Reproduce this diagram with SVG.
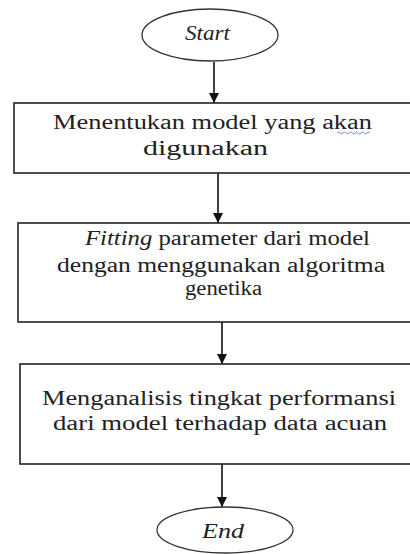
<svg xmlns="http://www.w3.org/2000/svg" width="410" height="554" viewBox="0 0 410 554">
<defs>
<marker id="ah" markerWidth="10" markerHeight="10" refX="10" refY="5" orient="auto" markerUnits="userSpaceOnUse" viewBox="0 0 10 10">
<path d="M0,0 L10,5 L0,10 Z" fill="#111"/>
</marker>
</defs>
<rect width="410" height="554" fill="#fff"/>
<g id="connectors" stroke="#111" stroke-width="1.6" fill="none">
<path d="M214,62 V103" marker-end="url(#ah)"/>
<path d="M218,173 V223" marker-end="url(#ah)"/>
<path d="M222,322 V364" marker-end="url(#ah)"/>
<path d="M222,464 V507" marker-end="url(#ah)"/>
</g>
<g id="start">
<ellipse fill="#fff" stroke="#333" stroke-width="1.3" cx="210" cy="35" rx="68" ry="26"/>
<text style="font-family:'Liberation Serif','Times New Roman',serif !important;font-size:20px;font-style:italic;fill:#222" x="185" y="40" textLength="45" lengthAdjust="spacingAndGlyphs">Start</text>
</g>
<g id="step1">
<rect fill="#fff" stroke="#222" stroke-width="1.6" x="14" y="103" width="420" height="70"/>
<text style="font-family:'Liberation Serif','Times New Roman',serif !important;font-size:20px;fill:#222" x="53" y="129" textLength="319" lengthAdjust="spacingAndGlyphs">Menentukan model yang akan</text>
<text style="font-family:'Liberation Serif','Times New Roman',serif !important;font-size:20px;fill:#222" x="143" y="155" textLength="125" lengthAdjust="spacingAndGlyphs">digunakan</text>
<path d="M337,133 q1.5,-2 3,0 t3,0 t3,0 t3,0 t3,0 t3,0 t3,0 t3,0 t3,0 t3,0 t3,0" fill="none" stroke="#6a7fd0" stroke-width="0.9"/>
</g>
<g id="step2">
<rect fill="#fff" stroke="#222" stroke-width="1.6" x="18" y="223" width="420" height="99"/>
<text style="font-family:'Liberation Serif','Times New Roman',serif !important;font-size:20px;fill:#222" x="85" y="245" textLength="285" lengthAdjust="spacingAndGlyphs"><tspan style="font-style:italic">Fitting</tspan> parameter dari model</text>
<text style="font-family:'Liberation Serif','Times New Roman',serif !important;font-size:20px;fill:#222" x="57" y="272" textLength="328" lengthAdjust="spacingAndGlyphs">dengan menggunakan algoritma</text>
<text style="font-family:'Liberation Serif','Times New Roman',serif !important;font-size:20px;fill:#222" x="185" y="295" textLength="77" lengthAdjust="spacingAndGlyphs">genetika</text>
</g>
<g id="step3">
<rect fill="#fff" stroke="#222" stroke-width="1.6" x="20" y="364" width="420" height="100"/>
<text style="font-family:'Liberation Serif','Times New Roman',serif !important;font-size:20px;fill:#222" x="42" y="405" textLength="354" lengthAdjust="spacingAndGlyphs">Menganalisis tingkat performansi</text>
<text style="font-family:'Liberation Serif','Times New Roman',serif !important;font-size:20px;fill:#222" x="53" y="430" textLength="334" lengthAdjust="spacingAndGlyphs">dari model terhadap data acuan</text>
</g>
<g id="end">
<ellipse fill="#fff" stroke="#333" stroke-width="1.3" cx="225" cy="530" rx="68" ry="23"/>
<text style="font-family:'Liberation Serif','Times New Roman',serif !important;font-size:20px;font-style:italic;fill:#222" x="202" y="538" textLength="42" lengthAdjust="spacingAndGlyphs">End</text>
</g>
</svg>
